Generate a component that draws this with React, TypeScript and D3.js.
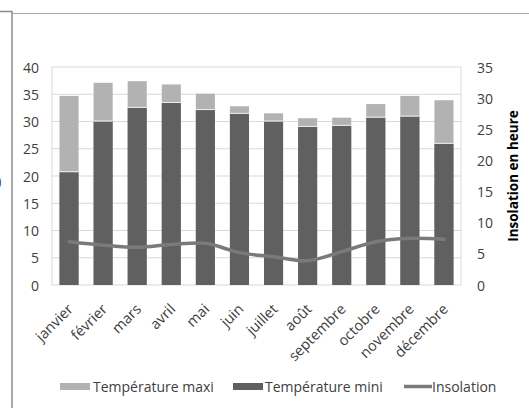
import React from "react";
import * as d3 from "d3";

const months = ["janvier", "février", "mars", "avril", "mai", "juin", "juillet", "août", "septembre", "octobre", "novembre", "décembre"];
const tempMaxi = [34.7, 37.1, 37.4, 36.8, 35.1, 32.8, 31.5, 30.6, 30.7, 33.2, 34.7, 33.9];
const tempMini = [20.7, 30.0, 32.5, 33.4, 32.1, 31.4, 30.0, 29.0, 29.2, 30.7, 30.9, 25.9];
const insolation = [6.95, 6.4, 6.05, 6.5, 6.7, 5.2, 4.55, 3.9, 5.35, 6.95, 7.5, 7.35];
const leftTicks = [0, 5, 10, 15, 20, 25, 30, 35, 40];
const rightTicks = [0, 5, 10, 15, 20, 25, 30, 35];

const W = 529, H = 408;
const plot = { left: 52, right: 461, top: 67, bottom: 285 };
const FONT = "'Open Sans', sans-serif";
const TXT = "#404040";

export default function App() {
  const x = d3.scaleBand<string>().domain(months).range([plot.left, plot.right]).paddingInner(0.44).paddingOuter(0.22);
  const yL = d3.scaleLinear().domain([0, 40]).range([plot.bottom, plot.top]);
  const yR = d3.scaleLinear().domain([0, 35]).range([plot.bottom, plot.top]);
  const line = d3.line<number>()
    .x((_, i) => (x(months[i]) as number) + x.bandwidth() / 2)
    .y((d) => yR(d))
    .curve(d3.curveCatmullRom.alpha(0.5));

  return (
    <svg width={W} height={H} style={{ display: "block", position: "absolute", left: 0, top: 0 }} fontFamily={FONT}>
      <rect x={0} y={0} width={W} height={H} fill="#fff" />
      <path d="M0,11.5 H12 V408" fill="none" stroke="#8c8c8c" strokeWidth={1.5} />
      <path d="M12,13.5 H529" fill="none" stroke="#a6a6a6" strokeWidth={1.2} />
      <text x={-3} y={182} fontSize={15} fill={TXT} dominantBaseline="middle">)</text>

      {leftTicks.map((t) => (
        <line key={t} x1={plot.left} x2={plot.right} y1={yL(t)} y2={yL(t)} stroke="#d9d9d9" strokeWidth={1} />
      ))}
      <line x1={plot.left} x2={plot.left} y1={plot.top} y2={plot.bottom} stroke="#d9d9d9" />
      <line x1={plot.right} x2={plot.right} y1={plot.top} y2={plot.bottom} stroke="#d9d9d9" />

      {months.map((m, i) => {
        const bx = x(m) as number;
        const bw = x.bandwidth();
        return (
          <g key={m}>
            <rect x={bx} y={yL(tempMaxi[i])} width={bw} height={plot.bottom - yL(tempMaxi[i])} fill="#b2b2b2" />
            <rect x={bx} y={yL(tempMini[i])} width={bw} height={plot.bottom - yL(tempMini[i])} fill="#606060" />
            <line x1={bx} x2={bx + bw} y1={yL(tempMini[i]) - 0.5} y2={yL(tempMini[i]) - 0.5} stroke="#eeeeee" strokeWidth={1} />
          </g>
        );
      })}

      <path d={line(insolation) || ""} fill="none" stroke="#7a7a7a" strokeWidth={3.5} strokeLinecap="round" />

      {leftTicks.map((t) => (
        <text key={t} x={39} y={yL(t)} textAnchor="end" dominantBaseline="central" fontSize={14} fill={TXT}>{t}</text>
      ))}
      {rightTicks.map((t) => (
        <text key={t} x={477} y={yR(t)} textAnchor="start" dominantBaseline="central" fontSize={14} fill={TXT}>{t}</text>
      ))}
      <text transform={`translate(513,176) rotate(-90)`} textAnchor="middle" dominantBaseline="central" fontSize={13.5} fontWeight="bold" fill="#000">Insolation en heure</text>

      {months.map((m) => {
        const cx = (x(m) as number) + x.bandwidth() / 2;
        return (
          <text key={m} transform={`translate(${cx + 5},${310}) rotate(-45)`} textAnchor="end" fontSize={14.5} fill={TXT}>{m}</text>
        );
      })}

      <g fontSize={14} fill={TXT}>
        <rect x={60} y={383} width={30} height={7} fill="#b2b2b2" />
        <text x={93} y={386.5} dominantBaseline="central">Température maxi</text>
        <rect x={233} y={383} width={30} height={7} fill="#606060" />
        <text x={265} y={386.5} dominantBaseline="central">Température mini</text>
        <line x1={404} x2={432} y1={386.5} y2={386.5} stroke="#7a7a7a" strokeWidth={3.5} />
        <text x={432} y={386.5} dominantBaseline="central">Insolation</text>
      </g>
    </svg>
  );
}
